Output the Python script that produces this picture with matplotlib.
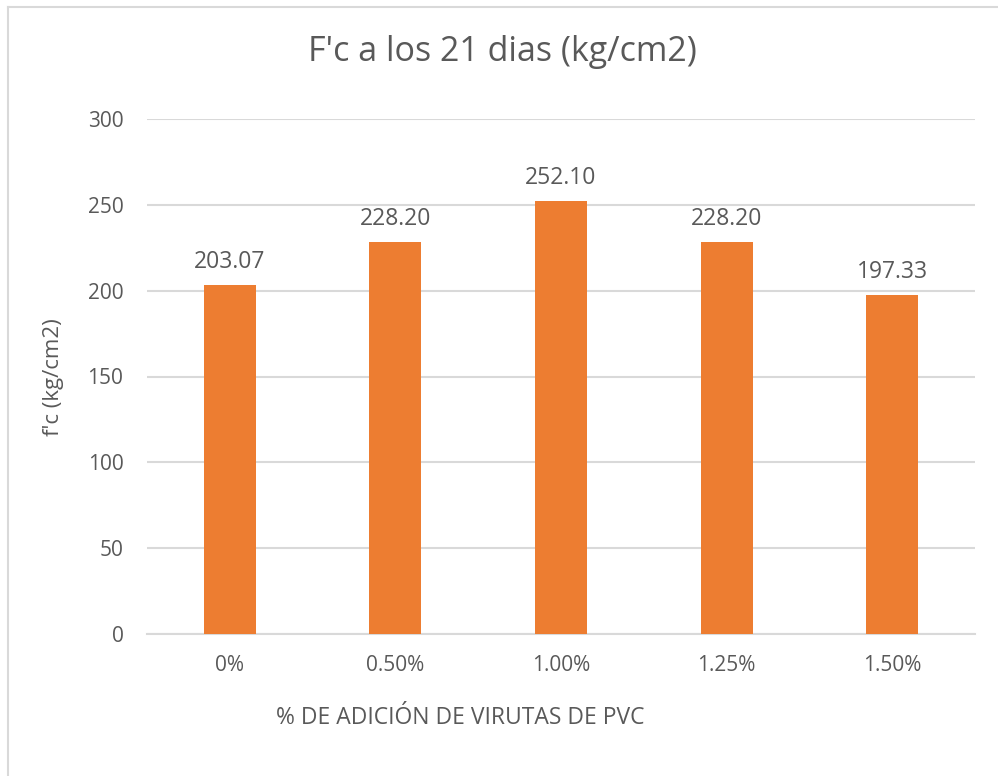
import matplotlib.pyplot as plt
from matplotlib.lines import Line2D

# Data
categories = ["0%", "0.50%", "1.00%", "1.25%", "1.50%"]
fc_values = [203.07, 228.20, 252.10, 228.20, 197.33]
y_ticks = [0, 50, 100, 150, 200, 250, 300]

TEXT = "#595959"
GRID = "#d9d9d9"
BAR = "#ED7D31"

plt.rcParams['font.family'] = ['Open Sans', 'DejaVu Sans']

fig = plt.figure(figsize=(9.98, 7.76), dpi=100)
ax = fig.add_axes([147 / 998, 1 - 634 / 776, 828 / 998, 515 / 776])

x = range(len(categories))
bars = ax.bar(x, fc_values, width=0.315, color=BAR, zorder=3)

ax.set_xlim(-0.5, len(categories) - 0.5)
ax.set_ylim(0, 300)
ax.set_yticks(y_ticks)
ax.set_xticks(list(x))
ax.set_xticklabels(categories)

ax.grid(axis='y', color=GRID, linewidth=1.5, zorder=0)
for s in ['top', 'right', 'left']:
    ax.spines[s].set_visible(False)
ax.spines['bottom'].set_color(GRID)
ax.spines['bottom'].set_linewidth(1.5)
ax.tick_params(axis='both', length=0, labelsize=15, colors=TEXT)
ax.tick_params(axis='y', pad=17)
ax.tick_params(axis='x', pad=15)

for rect, v in zip(bars, fc_values):
    ax.annotate(f"{v:.2f}", (rect.get_x() + rect.get_width() / 2, v),
                xytext=(0, 8), textcoords='offset points',
                ha='center', va='bottom', fontsize=16.5, color=TEXT)

fig.text(502 / 998, 1 - 52 / 776, "F'c a los 21 dias (kg/cm2)",
         ha='center', va='center', fontsize=24.5, color=TEXT)
fig.text(53 / 998, 1 - 377 / 776, "f'c (kg/cm2)", rotation=90,
         ha='center', va='center', fontsize=16, color=TEXT)
fig.text(460 / 998, 1 - 718 / 776, "% DE ADICIÓN DE VIRUTAS DE PVC",
         ha='center', va='center', fontsize=16.5, color=TEXT)

# light chart-area border (left and top edges visible in the crop)
fig.add_artist(Line2D([7.5 / 998, 7.5 / 998], [0, 1 - 6.5 / 776],
                      transform=fig.transFigure, color=GRID, linewidth=1.5))
fig.add_artist(Line2D([7.5 / 998, 1], [1 - 6.5 / 776, 1 - 6.5 / 776],
                      transform=fig.transFigure, color=GRID, linewidth=1.5))

fig.savefig("out.png", dpi=100, facecolor='white')
